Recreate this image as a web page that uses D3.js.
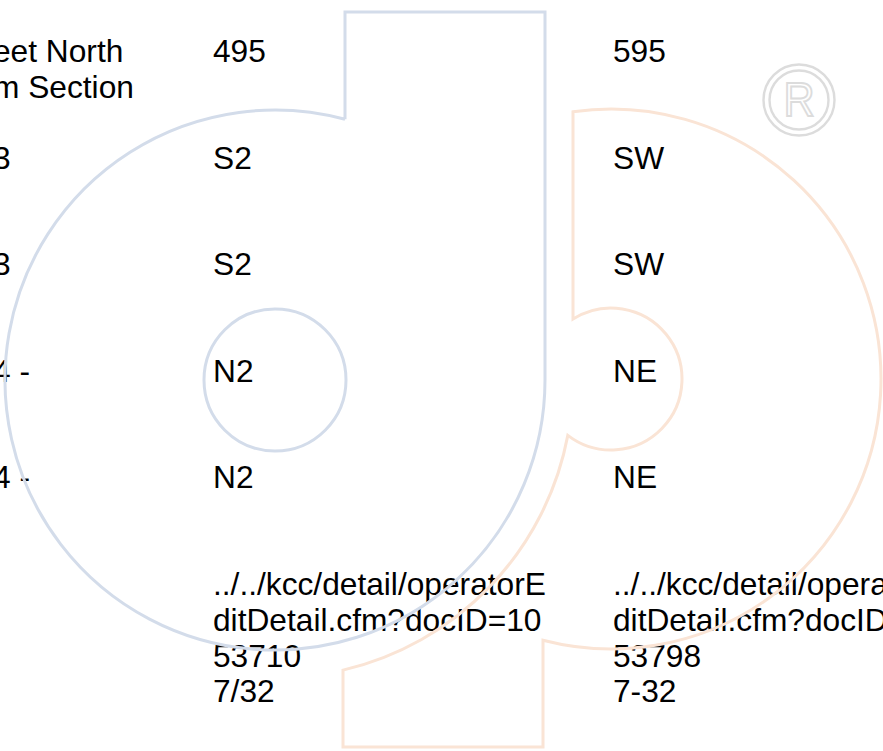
<!DOCTYPE html>
<html>
<head>
<meta charset="utf-8">
<script src="https://cdn.jsdelivr.net/npm/d3@7"></script>
<style>
  body { margin: 0; background: #fff; overflow: hidden; }
  svg { display: block; }
  .cell { font-family: "Liberation Sans", Arial, Helvetica, sans-serif; font-size: 31.7px; fill: #000; }
</style>
</head>
<body>
<svg id="page" width="883" height="751"></svg>
<script>
// table cells, one array per column (each cell is a list of wrapped lines)
var colLeft = [["eet North", "m Section"], ["3"], ["3"], ["4 -"], ["4 -"], [""]];
var col495 = [["495"], ["S2"], ["S2"], ["N2"], ["N2"],
    ["../../kcc/detail/operatorE", "ditDetail.cfm?docID=10", "53710", "7/32"]];
var col595 = [["595"], ["SW"], ["SW"], ["NE"], ["NE"],
    ["../../kcc/detail/operatorE", "ditDetail.cfm?docID=10", "53798", "7-32"]];
var columns = [colLeft, col495, col595];

var svg = d3.select('#page');

var rowY = d3.scaleLinear().domain([0, 5]).range([62, 595]);
var colX = d3.scaleOrdinal().domain([0, 1, 2]).range([-7, 213, 613]);
var lineH = 35.8;

/**
 * Draws the text of the table
 */
function drawTable() {
    var cols = svg.append('g').selectAll('g')
        .data(columns)
        .enter()
        .append('g');

    cols.each(function (col, ci) {
        var cells = d3.select(this).selectAll('text')
            .data(col)
            .enter()
            .append('text')
            .classed('cell', true)
            .attr('x', colX(ci))
            .attr('y', (d, i) => rowY(i));

        cells.selectAll('tspan')
            .data(d => d)
            .enter()
            .append('tspan')
            .attr('x', colX(ci))
            .attr('dy', (d, i) => i === 0 ? 0 : lineH)
            .text(d => d);
    });
}

/**
 * Draws the "d" logo watermark that lies over the page
 */
function drawWatermark() {
    var blue = '#d3dcea', orange = '#fae4d5';
    var g = svg.append('g').style('fill', 'none').style('stroke-width', 3);

    // blue d
    var cx = 275, cy = 380, R = 270, r = 71;
    var stemL = 345, stemR = 545, top = 12;
    var yJoin = cy - Math.sqrt(R * R - (stemL - cx) * (stemL - cx));
    var aJoin = Math.atan2(yJoin - cy, stemL - cx) + 2 * Math.PI;
    var p = d3.path();
    p.moveTo(stemL, yJoin);
    p.lineTo(stemL, top);
    p.lineTo(stemR, top);
    p.lineTo(stemR, cy);
    p.arc(cx, cy, R, 0, aJoin, false);
    g.append('path').attr('d', p.toString()).style('stroke', blue);
    g.append('circle').attr('cx', cx).attr('cy', cy).attr('r', r).style('stroke', blue);

    // orange shape, cut around the blue d with a gap
    var ox = 611, oy = 379, OR = 270, or = 71, gapR = 298;
    var leftX = 573, stL = 343, stR = 543, bottom = 747;
    var yTop = oy - Math.sqrt(OR * OR - (ox - leftX) * (ox - leftX));
    var yIn = oy - Math.sqrt(or * or - (ox - leftX) * (ox - leftX));
    // lower crossing of the inner circle with the gap circle
    var dx = ox - cx, dy = oy - cy, d = Math.sqrt(dx * dx + dy * dy);
    var a = (gapR * gapR - or * or + d * d) / (2 * d);
    var h = Math.sqrt(gapR * gapR - a * a);
    var ix = cx + a * dx / d - h * dy / d, iy = cy + a * dy / d + h * dx / d;
    var yGap = cy + Math.sqrt(gapR * gapR - (stL - cx) * (stL - cx));
    var yStem = oy + Math.sqrt(OR * OR - (stR - ox) * (stR - ox));

    var q = d3.path();
    q.moveTo(leftX, yTop);
    q.lineTo(leftX, yIn);
    q.arc(ox, oy, or, Math.atan2(yIn - oy, leftX - ox), Math.atan2(iy - oy, ix - ox), false);
    q.arc(cx, cy, gapR, Math.atan2(iy - cy, ix - cx), Math.atan2(yGap - cy, stL - cx), false);
    q.lineTo(stL, bottom);
    q.lineTo(stR, bottom);
    q.lineTo(stR, yStem);
    q.arc(ox, oy, OR, Math.atan2(yStem - oy, stR - ox), Math.atan2(yTop - oy, leftX - ox), true);
    q.closePath();
    g.append('path').attr('d', q.toString()).style('stroke', orange);

    // registered mark
    var reg = svg.append('g').attr('transform', 'translate(799,100)')
        .style('fill', 'none').style('stroke', '#dcdcdc').style('stroke-width', 2.4);
    reg.append('circle').attr('r', 35.5);
    reg.append('circle').attr('r', 29.5);
    reg.append('text')
        .attr('y', 16)
        .attr('text-anchor', 'middle')
        .attr('transform', 'scale(0.9,1)')
        .style('font-family', '"Liberation Sans", Arial, sans-serif')
        .style('font-size', '48px')
        .style('stroke-width', 2)
        .text('R');
}

drawTable();
drawWatermark();
</script>
</body>
</html>
